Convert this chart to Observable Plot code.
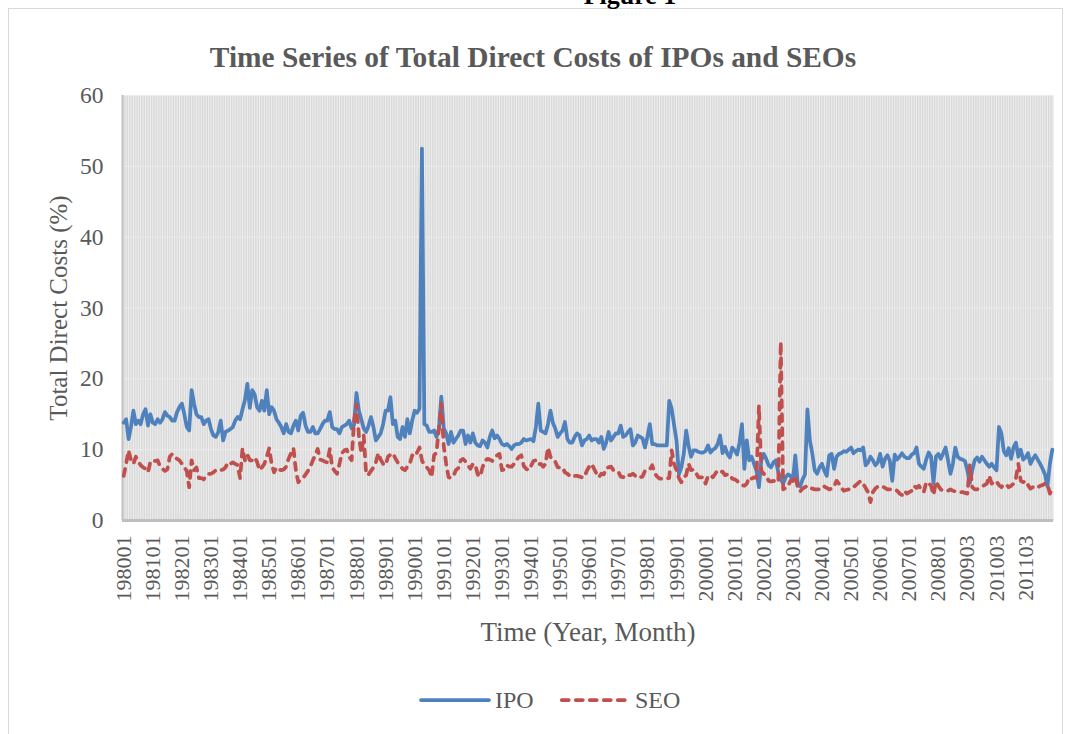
<!DOCTYPE html>
<html><head><meta charset="utf-8">
<script src="https://cdn.jsdelivr.net/npm/d3@7"></script>
<script src="https://cdn.jsdelivr.net/npm/@observablehq/plot@0.6"></script>
<style>
html,body{margin:0;padding:0;background:#fff;}
#wrap{position:relative;width:1072px;height:734px;overflow:hidden;font-family:"Liberation Serif","Times New Roman",serif;color:#595959;}
#border{position:absolute;left:8px;top:8px;width:1055px;height:760px;border:1px solid #d9d9d9;box-sizing:border-box;}
#fig{position:absolute;left:530px;width:200px;top:-17px;text-align:center;font-weight:bold;font-size:26px;line-height:1;color:#000;}
#title{position:absolute;left:0;width:1066px;top:43px;text-align:center;font-weight:bold;font-size:29.4px;line-height:1;color:#595959;white-space:nowrap;}
#chart{position:absolute;left:0;top:0;}
.leg{position:absolute;font-size:24px;line-height:1;color:#595959;white-space:nowrap;}
</style>
</head><body>
<div id="wrap">
  <div id="border"></div>
  <div id="fig">Figure 1</div>
  <div id="chart"></div>
  <div id="title">Time Series of Total Direct Costs of IPOs and SEOs</div>
  <svg class="leg" style="left:418px;top:694px" width="76" height="12"><line x1="3" y1="6" x2="71" y2="6" stroke="#4f81bd" stroke-width="3.75" stroke-linecap="round"/></svg>
  <div class="leg" style="left:495px;top:688px">IPO</div>
  <svg class="leg" style="left:557px;top:694px" width="76" height="12"><line x1="4.75" y1="6" x2="72" y2="6" stroke="#c0504d" stroke-width="3.75" stroke-dasharray="7,7" stroke-linecap="round"/></svg>
  <div class="leg" style="left:635px;top:688px">SEO</div>
</div>
<script>
// Monthly series, 1980-01 onward (12 values per row)
const ipo = [
13.8,14.3,11.5,13.2,15.5,13.6,14.1,13.6,15.0,15.7,13.4,15.0,
13.8,13.6,14.3,13.8,14.3,15.3,14.8,14.6,14.1,14.1,15.3,16.0,
16.5,15.0,13.2,12.7,18.4,16.5,15.0,14.6,14.6,13.6,14.1,14.3,
12.9,12.0,11.8,12.5,14.1,11.3,12.5,12.7,12.9,13.2,14.1,14.6,
14.3,15.7,17.0,19.3,15.9,18.4,17.8,16.0,15.5,16.9,15.5,18.4,
15.0,16.0,15.5,14.3,13.8,13.2,12.3,13.6,12.5,12.3,13.4,14.1,
12.7,14.8,15.2,13.4,12.5,12.5,13.2,12.3,12.3,12.9,13.6,14.1,
14.1,15.3,13.2,12.9,12.9,12.3,13.2,13.4,13.6,14.1,13.0,13.5,
18.0,15.5,14.3,13.0,12.5,13.4,14.6,13.2,11.3,11.8,12.3,13.6,
15.5,15.5,17.4,13.6,14.1,11.8,11.5,13.2,11.8,14.3,12.3,14.1,
15.5,15.2,15.8,52.5,13.6,13.4,12.5,12.5,12.7,11.8,13.0,17.5,
13.0,12.3,10.8,12.5,11.0,11.5,12.0,12.7,12.7,10.8,12.0,11.0,
12.3,11.0,10.6,10.5,11.3,11.0,10.3,11.8,12.7,11.6,12.0,11.5,
10.8,10.6,10.8,10.5,10.1,10.6,10.8,10.8,11.0,11.5,11.3,11.4,
11.5,11.2,13.2,16.5,12.7,12.5,12.3,13.6,15.5,13.8,13.0,11.8,
12.3,12.7,13.9,11.5,11.0,11.0,11.8,12.3,12.0,10.6,11.3,11.5,
12.0,11.3,11.5,11.5,11.0,11.8,10.1,11.0,12.5,11.3,11.8,12.3,
12.3,13.4,11.8,12.0,12.5,12.9,10.6,11.0,12.0,11.8,11.6,10.3,
11.8,13.6,10.8,10.8,10.6,10.6,10.6,10.6,10.6,16.9,15.8,13.5,
11.3,6.5,7.5,9.4,12.7,10.5,9.0,9.9,9.9,9.7,9.6,9.6,
9.8,10.6,9.6,10.0,10.2,10.8,12.0,9.5,10.4,9.4,8.9,10.3,
9.9,9.3,11.0,13.6,7.3,11.3,8.5,9.0,8.0,7.0,4.7,8.5,
9.4,8.7,7.8,7.5,8.2,8.5,6.8,5.8,5.2,6.1,6.5,6.3,
5.6,9.2,5.2,4.8,5.8,6.5,15.7,11.3,9.5,7.1,6.6,7.5,
8.0,7.0,6.3,9.2,9.4,7.3,9.0,9.4,9.5,9.8,9.7,10.0,
10.3,9.5,9.8,10.0,9.9,10.3,7.8,8.2,9.0,8.5,7.8,8.2,
9.4,7.6,8.7,9.2,8.4,5.6,9.3,8.6,9.0,9.5,9.0,8.8,
8.8,9.3,9.5,10.3,8.0,7.6,7.3,8.6,9.6,9.0,5.3,9.0,
9.4,8.7,9.5,10.3,8.5,6.6,8.0,10.3,9.0,8.7,8.6,8.4,
7.0,5.3,7.1,8.5,8.9,8.3,9.0,8.5,8.0,7.6,8.0,7.5,
7.1,13.2,12.3,9.8,9.2,10.2,8.7,10.3,11.0,9.0,10.0,8.6,
8.9,9.5,8.0,8.7,9.2,8.6,8.0,7.3,6.5,4.8,8.0,10.0
];
const seo = [
6.3,8.0,9.9,8.5,8.0,9.0,8.3,7.8,7.5,7.3,6.8,8.3,
8.5,8.4,8.5,7.6,7.3,7.0,7.2,9.0,9.4,9.0,8.7,8.5,
8.0,7.5,7.0,4.7,8.5,7.1,7.5,6.0,6.0,5.8,6.4,6.6,
6.6,6.8,7.1,7.2,7.1,7.2,7.5,8.2,8.0,8.2,8.0,7.8,
6.0,10.2,8.5,9.3,8.5,8.5,8.9,8.3,7.1,7.5,8.0,9.0,
10.2,8.0,6.8,7.5,7.2,7.1,7.2,7.6,8.7,9.5,10.2,7.1,
5.4,5.8,6.0,6.5,7.0,7.6,8.5,9.2,10.1,8.6,8.5,8.3,
8.2,10.1,7.5,7.0,6.6,8.0,9.5,9.9,10.0,9.0,8.5,14.0,
16.4,12.0,9.5,12.0,6.5,6.5,7.0,7.5,8.2,9.5,8.6,8.0,
7.8,9.0,9.3,9.5,8.8,8.2,7.8,7.3,7.1,7.6,8.0,9.2,
9.0,9.6,10.3,8.5,7.8,7.5,7.1,6.1,9.2,9.6,13.0,16.5,
10.5,8.0,6.1,6.0,6.3,7.1,7.4,8.5,8.7,8.3,7.8,7.3,
8.0,7.9,6.5,6.2,7.5,8.4,8.7,8.6,8.4,8.9,9.2,9.4,
7.1,7.2,7.8,7.6,7.6,8.0,8.5,9.0,9.2,7.7,7.3,7.1,
7.7,8.4,8.5,7.9,8.0,7.6,8.0,10.3,9.0,8.5,8.3,7.5,
7.5,7.5,6.8,6.6,6.3,6.1,6.3,6.3,6.2,6.1,6.1,7.0,
7.6,8.0,7.3,6.6,6.1,6.6,6.5,7.4,7.5,7.6,7.1,7.0,
6.9,6.2,6.1,6.5,6.4,6.4,6.6,6.3,6.4,6.1,6.2,7.0,
7.1,7.2,7.8,6.7,6.2,5.9,5.9,5.9,5.9,6.0,9.9,8.0,
7.1,6.0,5.4,6.1,6.4,8.0,7.1,7.2,6.8,6.1,6.1,6.1,
5.2,6.3,6.4,6.1,6.6,7.1,6.9,6.9,6.4,6.5,6.5,5.9,
5.8,5.6,5.2,5.0,4.9,5.2,6.1,5.9,6.1,6.0,16.2,7.0,
6.6,6.3,5.6,5.5,5.6,5.5,5.4,25.2,4.4,4.6,4.8,5.6,
5.6,6.3,4.7,4.1,4.5,4.7,4.9,4.6,4.5,4.4,4.4,4.4,
4.4,4.8,4.6,4.4,4.5,4.8,5.6,5.2,4.6,4.2,4.3,4.4,
4.4,4.7,5.0,5.3,5.6,5.2,4.6,4.0,2.6,4.0,4.5,4.8,
4.9,4.8,4.6,4.4,4.4,4.4,4.4,4.2,3.8,3.6,4.2,3.8,
4.0,4.2,4.9,4.6,4.9,4.3,4.0,5.4,5.3,4.9,3.6,5.5,
4.9,4.4,4.2,4.2,4.2,4.4,4.2,4.1,4.0,4.0,4.0,3.9,
3.8,7.8,4.7,4.4,4.4,4.6,4.8,5.0,5.2,6.3,5.2,5.6,
5.5,5.0,4.7,5.1,5.1,4.7,4.9,5.2,6.0,8.0,5.6,5.4,
5.6,5.0,4.5,4.7,4.9,4.7,4.9,5.0,5.2,5.2,3.8,4.5
];
const tickLabels = ["198001","198101","198201","198301","198401","198501","198601","198701","198801","198901",
"199001","199101","199201","199301","199401","199501","199601","199701","199801","199901",
"200001","200101","200201","200301","200401","200501","200601","200701","200801","200903","201003","201103"];
const yTicks = [0,10,20,30,40,50,60];

const N = ipo.length;
const tickPos = tickLabels.map((_, i) => i * 12);
const ipoData = ipo.map((v, i) => ({i, v}));
const seoData = seo.map((v, i) => ({i, v}));

const chart = Plot.plot({
  width: 1072, height: 734,
  marginLeft: 122, marginRight: 19, marginTop: 95, marginBottom: 214,
  style: {fontFamily: '"Liberation Serif","Times New Roman",serif', color: "#595959", background: "transparent", overflow: "visible"},
  x: {type: "linear", domain: [-0.5, N - 0.5]},
  y: {domain: [0, 60]},
  marks: [
    Plot.frame({fill: "#d9d9d9", stroke: null}),
    Plot.ruleX(d3.range(N), {stroke: "#eeeeee", strokeWidth: 1}),
    Plot.ruleY(yTicks.slice(1), {stroke: "#ebebeb", strokeWidth: 1}),
    Plot.ruleX([-0.5], {stroke: "#bfbfbf", strokeWidth: 2}),
    Plot.ruleY([0], {stroke: "#bfbfbf", strokeWidth: 3}),
    Plot.axisY({ticks: yTicks, tickSize: 0, tickPadding: 19, fontSize: 23.5, label: null, fill: "#595959"}),
    Plot.axisX({ticks: tickPos, tickFormat: v => tickLabels[Math.round(v / 12)], tickRotate: -90, tickSize: 0, tickPadding: 15, fontSize: 22, label: null, fill: "#595959"}),
    Plot.text(["Total Direct Costs (%)"], {frameAnchor: "left", rotate: -90, dx: -64, textAnchor: "middle", lineAnchor: "middle", fontSize: 25, fill: "#595959"}),
    Plot.text(["Time (Year, Month)"], {frameAnchor: "bottom", dy: 112, textAnchor: "middle", lineAnchor: "middle", fontSize: 27, fill: "#595959"}),
    Plot.line(ipoData, {x: "i", y: "v", stroke: "#4f81bd", strokeWidth: 3.75, strokeLinejoin: "round", strokeLinecap: "round"}),
    Plot.line(seoData, {x: "i", y: "v", stroke: "#c0504d", strokeWidth: 3.75, strokeDasharray: "7,7", strokeLinecap: "round", strokeLinejoin: "round"})
  ]
});
document.getElementById("chart").appendChild(chart);
</script>
</body></html>
